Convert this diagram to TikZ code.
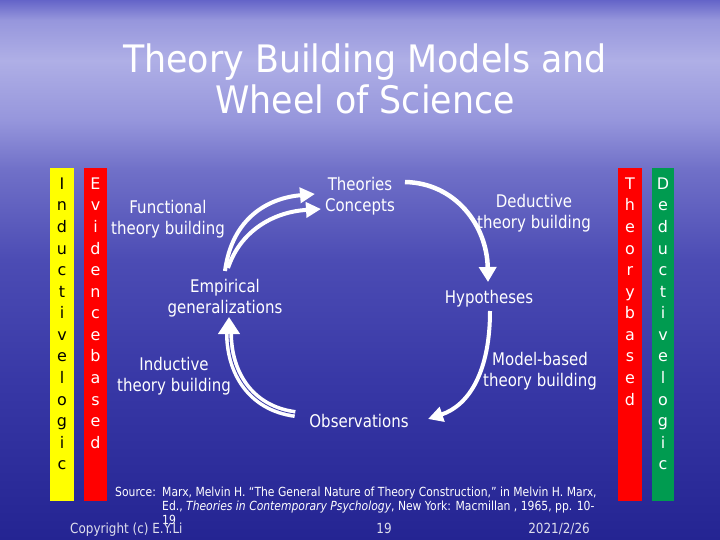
\documentclass[tikz,border=0pt]{standalone}
\usepackage{fontspec}
\setmainfont[FakeStretch=0.86]{DejaVu Sans}
\newfontfamily\barfont{DejaVu Sans}
\newfontfamily\titlefont[FakeStretch=0.92]{DejaVu Sans}
\usetikzlibrary{arrows.meta}
\definecolor{bgtop}{RGB}{100,100,200}
\definecolor{bga}{RGB}{150,150,220}
\definecolor{bgb}{RGB}{175,175,230}
\definecolor{bgc}{RGB}{150,150,220}
\definecolor{bgd}{RGB}{112,112,200}
\definecolor{bge}{RGB}{76,76,180}
\definecolor{bgf}{RGB}{56,56,166}
\definecolor{bgbot}{RGB}{36,36,146}
\definecolor{gapcol}{RGB}{60,60,170}
\definecolor{barred}{RGB}{255,0,0}
\definecolor{baryel}{RGB}{255,255,0}
\definecolor{bargrn}{RGB}{0,155,80}
\definecolor{footcol}{RGB}{222,222,236}
% positions: y=0 ->75, 20 ->73.15, 60 ->69.44, 120 ->63.89, 170 ->59.26, 260 ->50.93, 380 ->39.81, 540 ->25
\pgfdeclareverticalshading{bgsh}{100bp}{color(0bp)=(bgbot); color(25bp)=(bgbot); color(39.81bp)=(bgf); color(50.93bp)=(bge); color(59.26bp)=(bgd); color(63.89bp)=(bgc); color(69.44bp)=(bgb); color(73.15bp)=(bga); color(75bp)=(bgtop); color(100bp)=(bgtop)}
\begin{document}
\begin{tikzpicture}[x=1bp,y=-1bp,
  ttl/.style={inner sep=0pt, align=center, font=\titlefont\fontsize{38}{41}\selectfont},
  lbl/.style={text=white, inner sep=0pt, align=center, font=\fontsize{17.5}{21}\selectfont},
  barlet/.style={inner sep=0pt, align=center, font=\barfont\fontsize{16}{21.65}\selectfont},
  srcf/.style={text=white, inner sep=0pt, font=\fontsize{12.6}{14}\selectfont},
  footf/.style={text=footcol, inner sep=0pt, font=\fontsize{14}{16}\selectfont},
  warrow/.style={draw=white, line width=4.5bp, -{Triangle[length=15bp,width=17bp]}},
  warrowthin/.style={draw=white, line width=4bp, -{Triangle[length=15bp,width=15bp]}}
]
\shade[shading=bgsh] (0,0) rectangle (720,540);
\useasboundingbox (0,0) rectangle (720,540);

% title
\node (title) [ttl, text=white, anchor=north] at (365,44) {Theory Building Models and\\Wheel of Science};

% bars
\fill[baryel] (50,168) rectangle (74,501);
\fill[barred] (84,168) rectangle (107,501);
\fill[barred] (618,168) rectangle (642,501);
\fill[bargrn] (652,168) rectangle (674,501);
\node (ind) [barlet, text=black, anchor=north] at (62,177.5) {I\\n\\d\\u\\c\\t\\i\\v\\e\\l\\o\\g\\i\\c};
\node (evi) [barlet, text=white, anchor=north] at (95.5,177.5) {E\\v\\i\\d\\e\\n\\c\\e\\b\\a\\s\\e\\d};
\node (thb) [barlet, text=white, anchor=north] at (630,177.5) {T\\h\\e\\o\\r\\y\\b\\a\\s\\e\\d};
\node (ded) [barlet, text=white, anchor=north] at (663,177.5) {D\\e\\d\\u\\c\\t\\i\\v\\e\\l\\o\\g\\i\\c};

% labels
\node (theo) [lbl, anchor=north] at (360,176.7) {Theories\\Concepts};
\node (func) [lbl, anchor=north] at (168,199.7) {Functional\\theory building};
\node (emp) [lbl, anchor=north] at (225,278.7) {Empirical\\generalizations};
\node (indb) [lbl, anchor=north] at (174,356.7) {Inductive\\theory building};
\node (dedb) [lbl, anchor=north] at (534,193.7) {Deductive\\theory building};
\node (modb) [lbl, anchor=north] at (540,351.7) {Model-based\\theory building};
\node (obs) [lbl, anchor=base] at (359,427) {Observations};
\node (hyp) [lbl, anchor=base] at (489,303) {Hypotheses};

% arrows
\coordinate (a1s) at (225,271);
\coordinate (a1e) at (315,194);
\coordinate (a1t) at (228,268);
\coordinate (a1f) at (321,209);
\draw[warrowthin] (a1s) .. controls (232,218) and (268,198) .. (a1e);
\draw[warrowthin] (a1t) .. controls (240,232) and (272,212) .. (a1f);

\coordinate (a2s) at (295,414);
\coordinate (a2e) at (229,317);
\draw[white, line width=8bp, -{Triangle[length=17bp,width=21bp]}] (a2s) .. controls (250,408) and (229,372) .. (a2e);
\draw[gapcol, line width=0.8bp, shorten >=17bp] (a2s) .. controls (250,408) and (229,372) .. (a2e);

\coordinate (a3s) at (405,182);
\coordinate (a3e) at (488,282);
\draw[warrow] (a3s) .. controls (455,183) and (487,225) .. (a3e);

\coordinate (a4s) at (490,311);
\coordinate (a4e) at (428,419);
\draw[warrowthin] (a4s) .. controls (490,370) and (470,405) .. (a4e);

% source
\node (srclab) [srcf, anchor=base west] at (115,496) {Source:};
\node (srcref) [srcf, anchor=north west, align=left] at (162,486.5) {Marx, Melvin H. “The General Nature of Theory Construction,” in Melvin H. Marx,\\Ed., \textit{Theories in Contemporary Psychology}, New York: Macmillan , 1965, pp. 10-\\19};

% footer
\node (copy) [footf, anchor=base west] at (70,533) {Copyright (c) E.Y.Li};
\node (pg) [footf, anchor=base] at (384,533) {19};
\node (date) [footf, anchor=base east] at (590,533) {2021/2/26};
\end{tikzpicture}
\end{document}
